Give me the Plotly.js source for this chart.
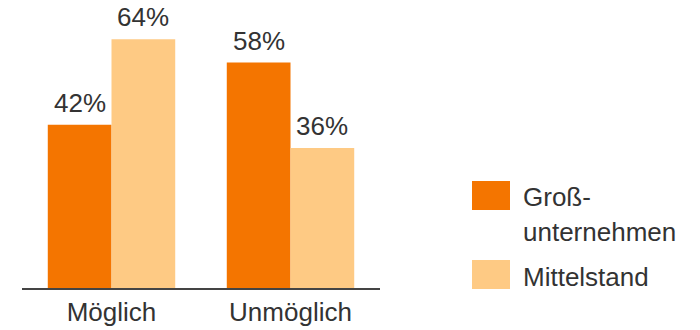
<!DOCTYPE html>
<html>
<head>
<meta charset="utf-8">
<script src="https://cdn.plot.ly/plotly-3.0.1.min.js"></script>
<style>html,body{margin:0;padding:0;background:#fff;}#chart{width:700px;height:330px;}</style>
</head>
<body>
<div id="chart"></div>
<script>
const categories = ["Möglich", "Unmöglich"];
const seriesNames = ["Groß-<br>unternehmen", "Mittelstand"];
const grossunternehmen = [42, 58];
const mittelstand = [64, 36];
const valueLabels1 = ["42%", "58%"];
const valueLabels2 = ["64%", "36%"];
const colors = ["#F47500", "#FECA84"];

const W = 700, H = 330;
const M = {l: 22, r: 320, t: 0, b: 42};
const FONT = "Liberation Sans, Arial, sans-serif";
const TXT = "#333333";
const FS = 26;
const BARGAP = 0.288;

const pw = W - M.l - M.r, ph = H - M.t - M.b;
const px = x => (x - M.l) / pw;
const py = y => (H - M.b - y) / ph;

const traces = [
  {type: "bar", x: categories, y: grossunternehmen, name: seriesNames[0],
   marker: {color: colors[0]}, hoverinfo: "none"},
  {type: "bar", x: categories, y: mittelstand, name: seriesNames[1],
   marker: {color: colors[1]}, hoverinfo: "none"}
];

const shapes = [];
const annotations = [];
// value labels above bars (data coordinates)
const off = (1 - BARGAP) / 4;
[[grossunternehmen, valueLabels1, -off], [mittelstand, valueLabels2, off]].forEach(([vals, labs, o]) => {
  vals.forEach((v, i) => {
    annotations.push({xref: "x", yref: "y", x: i + o, y: v, xanchor: "center", yanchor: "bottom",
      yshift: 5, text: labs[i], showarrow: false, font: {family: FONT, size: FS, color: TXT}});
  });
});
// custom legend
const legendRows = [{sy: 181, ty: [205, 240]}, {sy: 260, ty: [285.5]}];
seriesNames.forEach((n, i) => {
  const r = legendRows[i];
  shapes.push({type: "rect", xref: "paper", yref: "paper",
    x0: px(472), x1: px(510), y0: py(r.sy + 29), y1: py(r.sy),
    fillcolor: colors[i], line: {width: 0}});
  n.split("<br>").forEach((line, j) => {
    annotations.push({xref: "paper", yref: "paper", x: px(521), y: py(r.ty[j] + 8.5),
      xanchor: "left", yanchor: "bottom", text: line, showarrow: false,
      font: {family: FONT, size: FS, color: TXT}});
  });
});

const layout = {
  width: W, height: H, margin: M,
  paper_bgcolor: "#fff", plot_bgcolor: "#fff",
  barmode: "group", bargap: BARGAP, bargroupgap: 0,
  showlegend: false,
  xaxis: {type: "category", range: [-0.5, 1.5], showline: true, linecolor: "#444", linewidth: 2,
          ticks: "", tickfont: {family: FONT, size: FS, color: TXT}, showgrid: false, zeroline: false, fixedrange: true},
  yaxis: {range: [0, 74.1], visible: false, showgrid: false, zeroline: false, fixedrange: true},
  shapes: shapes, annotations: annotations,
  font: {family: FONT, color: TXT}
};

Plotly.newPlot("chart", traces, layout, {displayModeBar: false, staticPlot: true});
</script>
</body>
</html>
